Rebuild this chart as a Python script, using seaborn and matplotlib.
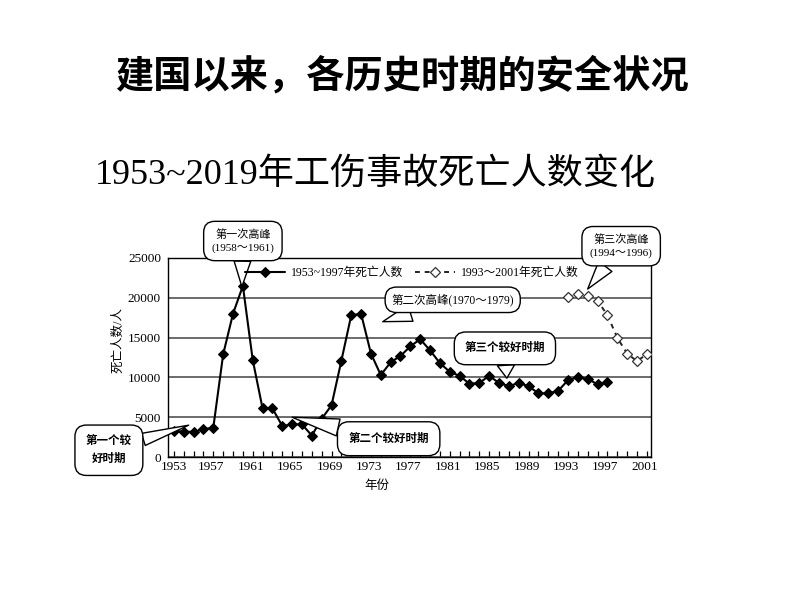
import matplotlib
matplotlib.use("Agg")
import matplotlib.pyplot as plt
import matplotlib.transforms as mtrans
import seaborn as sns
import pandas as pd

# ---- data ----
years_a = list(range(1953, 1998))
deaths_a = [3270, 3200, 3150, 3480, 3700, 12900, 18000, 21500, 12200, 6100,
            6100, 3900, 4100, 4100, 2700, 4800, 6500, 12100, 17800, 18000,
            13000, 10300, 11900, 12700, 13900, 14800, 13400, 11800, 10700, 10200,
            9200, 9300, 10200, 9300, 8900, 9300, 8900, 8000, 8000, 8300,
            9650, 10000, 9800, 9150, 9400]
years_b = list(range(1993, 2002))
deaths_b = [20100, 20500, 20200, 19600, 17850, 15000, 13000, 12050, 12900]
label_a = "1953~1997年死亡人数"
label_b = "1993～2001年死亡人数"
xticks = list(range(1953, 2002, 4))
yticks = [0, 5000, 10000, 15000, 20000, 25000]

main_title = "建国以来，各历史时期的安全状况"
sub_title = "1953~2019年工伤事故死亡人数变化"

sns.set_theme(style="white")
plt.rcParams['font.family'] = ['Liberation Serif', 'Noto Sans CJK SC', 'DejaVu Sans']
plt.rcParams['text.color'] = 'black'
plt.rcParams['axes.labelcolor'] = 'black'
plt.rcParams['xtick.color'] = 'black'
plt.rcParams['ytick.color'] = 'black'

df_a = pd.DataFrame({"year": years_a, "deaths": deaths_a})
df_b = pd.DataFrame({"year": years_b, "deaths": deaths_b})

fig = plt.figure(figsize=(8, 6), dpi=100)
fig.patch.set_facecolor("white")
ax = fig.add_axes([0.21, 0.2383, 0.604, 0.3317])

# gridlines
ax.set_yticks(yticks)
ax.yaxis.grid(True, color="#444444", linewidth=1.1)
ax.xaxis.grid(False)
ax.set_axisbelow(True)

sns.lineplot(data=df_a, x="year", y="deaths", ax=ax, color="black",
             linewidth=1.5, marker="D", markersize=5, markeredgecolor="black",
             markerfacecolor="black", label=label_a, zorder=3)
sns.lineplot(data=df_b, x="year", y="deaths", ax=ax, color="#222222",
             linewidth=1.4, linestyle=(0, (2.5, 2.5)), marker="D", markersize=5.5,
             markeredgecolor="#333333", markerfacecolor="white",
             markeredgewidth=0.9, label=label_b, zorder=3)

ax.set_xlim(1952.4, 2001.45)
ax.set_ylim(0, 25000)
ax.set_xticks(xticks)
ax.set_xticks(list(range(1953, 2002)), minor=True)
ax.tick_params(axis="x", which="both", direction="in", bottom=True, length=4,
               width=0.9, color="black", labelsize=9.5, pad=3)
ax.tick_params(axis="y", length=0, labelsize=9.5, pad=5)
shift = mtrans.ScaledTranslation(-2 / 100, 0, fig.dpi_scale_trans)
for lab in ax.get_xticklabels()[1:]:
    lab.set_transform(lab.get_transform() + shift)
for s in ax.spines.values():
    s.set_color("black")
    s.set_linewidth(1.0)

ax.set_xlabel("年份", fontsize=9, labelpad=3)
ax.xaxis.set_label_coords(0.433, -0.115)
ax.set_ylabel("死亡人数/人", fontsize=9)
ax.yaxis.set_label_coords(-0.09, 0.59)

leg = ax.legend(loc="center left", bbox_to_anchor=(0.15, 0.925), ncol=2,
                frameon=False, fontsize=8.5, handlelength=3.4, columnspacing=1.0,
                handletextpad=0.5, borderaxespad=0)

# ---- speech-bubble callouts ----
def callout(text, xy, xytext, fs=7.8, bold=False, pad=0.7, tw=1.5):
    bubble = dict(boxstyle=f"round,pad={pad},rounding_size=1.0", fc="white",
                  ec="black", lw=1.0)
    arrow = dict(arrowstyle=f"wedge,tail_width={tw},shrink_factor=0.5",
                 fc="white", ec="black", lw=1.0, relpos=(0.5, 0.5),
                 shrinkA=0, shrinkB=0)
    ax.annotate(text, xy=xy, xytext=xytext, textcoords="data",
                ha="center", va="center", fontsize=fs, linespacing=1.5,
                fontweight="bold" if bold else "normal",
                bbox=bubble, arrowprops=arrow, annotation_clip=False, zorder=5)

callout("第一次高峰\n(1958～1961)", (1959.9, 21400), (1960.0, 27150), fs=8)
callout("第二次高峰(1970～1979)", (1974.2, 17000), (1981.3, 19750), fs=8.3, pad=0.55)
callout("第三次高峰\n(1994～1996)", (1995.0, 21100), (1998.4, 26500), fs=8)
callout("第三个较好时期", (1986.8, 9900), (1986.6, 13650), fs=8.3, bold=True, pad=0.9)
callout("第二个较好时期", (1965.0, 5000), (1974.8, 2300), fs=8.3, bold=True, pad=0.95)
callout("第一个较\n好时期", (1954.5, 4000), (1946.4, 850), fs=8.3, bold=True, pad=0.95, tw=1.1)

# ---- titles ----
fig.text(0.503, 0.873, main_title, ha="center", va="center", fontsize=27.5,
         fontweight="bold", color="black",
         family=["Noto Sans CJK SC", "DejaVu Sans"])
fig.text(0.119, 0.708, sub_title, ha="left", va="center", fontsize=26,
         color="black", family=["Liberation Serif", "Noto Sans CJK SC"])

fig.savefig("out.png", dpi=100, facecolor="white")
